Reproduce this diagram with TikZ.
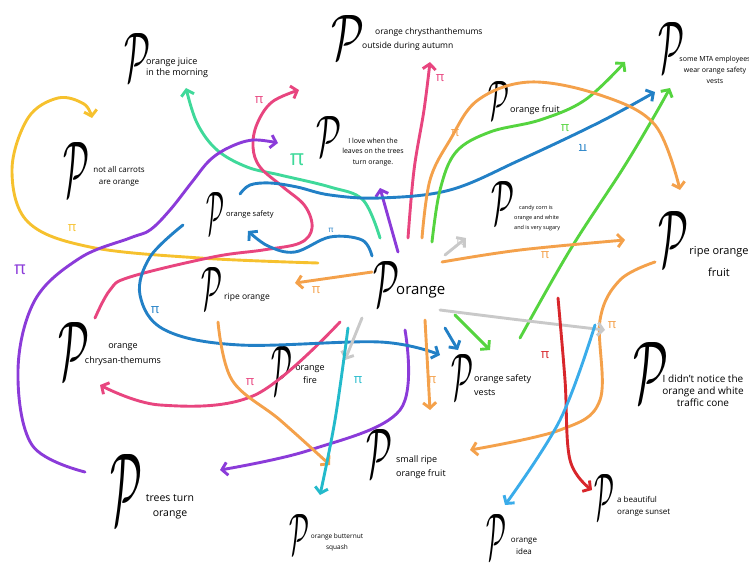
\documentclass[tikz,border=0pt]{standalone}
\usepackage{fontspec}
\setmainfont{Open Sans}
\usetikzlibrary{arrows.meta}
\definecolor{cyellow}{HTML}{F6C12E}
\definecolor{cmint}{HTML}{3FD99A}
\definecolor{cpink}{HTML}{E8457F}
\definecolor{cpurple}{HTML}{8B3BD9}
\definecolor{cblue}{HTML}{2280C6}
\definecolor{cgreen}{HTML}{55D43F}
\definecolor{corange}{HTML}{F4A14B}
\definecolor{cgrey}{HTML}{C9C9C9}
\definecolor{cred}{HTML}{D8262B}
\definecolor{clblue}{HTML}{3AACEA}
\definecolor{cteal}{HTML}{23BACB}
\newcommand{\bigP}[2]{\resizebox{#1}{#2}{$\mathcal{P}$}}
\tikzset{
  pglyph/.style={inner sep=0pt, anchor=south west},
  lab/.style={inner sep=0pt, align=left, text=black},
  conn/.style={line width=2.9pt, line cap=round, line join=round,
    -{Straight Barb[length=5.5pt,width=13pt]}},
  pimark/.style={inner sep=0pt, font=\fontsize{13}{13}\selectfont},
}
\begin{document}
\begin{tikzpicture}[x=1pt,y=-1pt]
\useasboundingbox (0,0) rectangle (749,567);
% ---------------- nodes ----------------
\node[pglyph] (pjuice) at (124,82) {\bigP{26pt}{48pt}};
\node[lab, anchor=west, font=\fontsize{9}{11}\selectfont] (tjuice) at (146,68) {orange juice\\in the morning};
\node[pglyph] (pautumn) at (331,60) {\bigP{33pt}{44pt}};
\node[lab, anchor=west, font=\fontsize{8.5}{14}\selectfont] (tautumn) at (362,39) {\hspace*{13pt}orange chrysthanthemums\\outside during autumn};
\node[pglyph] (pfruit) at (488,120) {\bigP{21pt}{38pt}};
\node[lab, anchor=west, font=\fontsize{9}{11}\selectfont] (tfruit) at (510,110) {orange fruit};
\node[pglyph] (pmta) at (658,73) {\bigP{26pt}{50pt}};
\node[lab, align=center, font=\fontsize{7}{11}\selectfont] (tmta) at (715,70) {some MTA employees\\wear orange safety\\vests};
\node[pglyph] (pleaves) at (316,157) {\bigP{25pt}{40pt}};
\node[lab, align=center, font=\fontsize{7}{10.5}\selectfont] (tleaves) at (373,152) {I love when the\\leaves on the trees\\turn orange.};
\node[pglyph] (pcandy) at (491,225) {\bigP{23pt}{43pt}};
\node[lab, align=left, anchor=west, font=\fontsize{5.5}{10}\selectfont] (tcandy) at (514,218) {\hspace*{5pt}candy corn is\\orange and white\\and is very sugary};
\node[pglyph] (pcarrot) at (63,197) {\bigP{26pt}{54pt}};
\node[lab, align=center, font=\fontsize{8}{12}\selectfont] (tcarrot) at (119,176) {not all carrots\\are orange};
\node[pglyph] (psafety) at (206,235) {\bigP{18pt}{42pt}};
\node[lab, anchor=west, font=\fontsize{7.5}{10}\selectfont] (tsafety) at (226,215) {orange safety};
\node[pglyph] (pripefruit) at (658,267) {\bigP{30pt}{55pt}};
\node[lab, align=center, font=\fontsize{11}{22}\selectfont] (tripefruit) at (719,262) {ripe orange\\fruit};
\node[pglyph] (pcenter) at (373,307) {\bigP{26pt}{45pt}};
\node[lab, anchor=west, font=\fontsize{15}{18}\selectfont] (tcenter) at (396,292) {orange};
\node[pglyph] (pripe) at (201,310) {\bigP{21pt}{42pt}};
\node[lab, anchor=west, font=\fontsize{8.5}{10}\selectfont] (tripe) at (224,297) {ripe orange};
\node[pglyph] (pchrys) at (58,380) {\bigP{31pt}{57pt}};
\node[lab, align=center, font=\fontsize{9}{15}\selectfont] (tchrys) at (123,355) {orange\\chrysan-themums};
\node[pglyph] (pfire) at (271,395) {\bigP{21pt}{48pt}};
\node[lab, align=center, font=\fontsize{9}{13}\selectfont] (tfire) at (310,375) {orange\\fire};
\node[pglyph] (pvests) at (451,400) {\bigP{22pt}{45pt}};
\node[lab, align=left, anchor=west, font=\fontsize{9}{14}\selectfont] (tvests) at (474,385) {orange safety\\vests};
\node[pglyph] (pcone) at (633,403) {\bigP{35pt}{60pt}};
\node[lab, align=center, font=\fontsize{10}{12}\selectfont] (tcone) at (703,391) {I didn't notice the\\orange and white\\traffic cone};
\node[pglyph] (psmall) at (366,478) {\bigP{26pt}{48pt}};
\node[lab, anchor=west, font=\fontsize{9}{14}\selectfont] (tsmall) at (396,467) {small ripe\\orange fruit};
\node[pglyph] (ptrees) at (110,525) {\bigP{32pt}{70pt}};
\node[lab, align=center, font=\fontsize{10.5}{15}\selectfont] (ttrees) at (170,507) {trees turn\\orange};
\node[pglyph] (psquash) at (289,555) {\bigP{20pt}{40pt}};
\node[lab, align=center, font=\fontsize{6.5}{11}\selectfont] (tsquash) at (337,542) {orange butternut\\squash};
\node[pglyph] (pidea) at (486,560) {\bigP{20pt}{45pt}};
\node[lab, align=center, font=\fontsize{8}{12}\selectfont] (tidea) at (524,546) {orange\\idea};
\node[pglyph] (psunset) at (594,520) {\bigP{20pt}{45pt}};
\node[lab, anchor=west, font=\fontsize{8}{12}\selectfont] (tsunset) at (617,506) {a beautiful\\orange sunset};
% ---------------- connector ends ----------------
\coordinate (yS) at (318,263);  \coordinate (yE) at (92,118);
\coordinate (mS) at (380,238);  \coordinate (mE) at (186,88);
\coordinate (pkS) at (408,238); \coordinate (pkE) at (430,62);
\coordinate (pk2S) at (95,318); \coordinate (pk2E) at (299,90);
\coordinate (pk3S) at (340,322); \coordinate (pk3E) at (100,385);
\coordinate (puS) at (85,472);  \coordinate (puE) at (278,143);
\coordinate (pu2S) at (405,330); \coordinate (pu2E) at (220,470);
\coordinate (pu3S) at (398,252); \coordinate (pu3E) at (380,188);
\coordinate (blS) at (240,194); \coordinate (blE) at (655,92);
\coordinate (bl2S) at (183,225); \coordinate (bl2E) at (440,355);
\coordinate (bl3S) at (372,256); \coordinate (bl3E) at (248,231);
\coordinate (bl4S) at (445,328); \coordinate (bl4E) at (458,350);
\coordinate (gS) at (432,242);  \coordinate (gE) at (625,62);
\coordinate (g2S) at (520,338); \coordinate (g2E) at (670,88);
\coordinate (g3S) at (455,315); \coordinate (g3E) at (490,350);
\coordinate (oS) at (422,238);  \coordinate (oE) at (680,190);
\coordinate (o2S) at (442,262); \coordinate (o2E) at (625,240);
\coordinate (o3S) at (655,262); \coordinate (o3E) at (470,450);
\coordinate (o4S) at (425,320); \coordinate (o4E) at (430,410);
\coordinate (o5S) at (218,322); \coordinate (o5E) at (330,465);
\coordinate (o6S) at (372,272); \coordinate (o6E) at (295,283);
\coordinate (grS) at (445,255); \coordinate (grE) at (466,238);
\coordinate (gr2S) at (440,310); \coordinate (gr2E) at (605,330);
\coordinate (gr3S) at (362,318); \coordinate (gr3E) at (345,360);
\coordinate (rS) at (558,298);  \coordinate (rE) at (592,490);
\coordinate (lbS) at (595,325); \coordinate (lbE) at (505,505);
\coordinate (tS) at (348,328);  \coordinate (tE) at (320,495);
% ---------------- connectors ----------------
\draw[conn, cyellow] plot[smooth, tension=0.6] coordinates {(yS) (200,258) (90,247) (28,222) (12,170) (28,118) (58,98) (84,104) (yE)};
\draw[conn, cmint] plot[smooth, tension=0.6] coordinates {(mS) (363,200) (330,187) (280,175) (247,167) (217,150) (197,123) (mE)};
\draw[conn, cpink] plot[smooth, tension=0.6] coordinates {(pkS) (414,170) (424,110) (pkE)};
\draw[conn, cpink] plot[smooth, tension=0.6] coordinates {(pk2S) (110,290) (130,277) (213,257) (263,250) (300,243) (312,228) (305,206) (283,187) (260,167) (253,147) (257,124) (272,102) (pk2E)};
\draw[conn, cpink] plot[smooth, tension=0.6] coordinates {(pk3S) (255,395) (160,405) (pk3E)};
\draw[conn, cpurple] plot[smooth, tension=0.6] coordinates {(puS) (32,445) (18,370) (35,300) (80,258) (130,238) (150,230) (170,210) (192,182) (210,160) (230,147) (253,140) (puE)};
\draw[conn, cpurple] plot[smooth, tension=0.6] coordinates {(pu2S) (400,410) (310,450) (pu2E)};
\draw[conn, cpurple] (pu3S) -- (pu3E);
\draw[conn, cblue] plot[smooth, tension=0.6] coordinates {(blS) (250,185) (270,183) (297,187) (330,195) (380,198) (450,190) (520,160) (600,122) (blE)};
\draw[conn, cblue] plot[smooth, tension=0.6] coordinates {(bl2S) (150,257) (140,295) (165,330) (240,345) (380,342) (bl2E)};
\draw[conn, cblue] plot[smooth, tension=0.6] coordinates {(bl3S) (362,240) (330,237) (295,252) (268,246) (bl3E)};
\draw[conn, cblue] (bl4S) -- (bl4E);
\draw[conn, cgreen] plot[smooth, tension=0.6] coordinates {(gS) (440,190) (456,152) (490,132) (540,120) (585,100) (gE)};
\draw[conn, cgreen] plot[smooth, tension=0.6] coordinates {(g2S) (570,250) (622,170) (652,120) (g2E)};
\draw[conn, cgreen] (g3S) -- (g3E);
\draw[conn, corange] plot[smooth, tension=0.6] coordinates {(oS) (430,180) (450,140) (478,100) (530,82) (600,95) (655,125) (oE)};
\draw[conn, corange] plot[smooth, tension=0.6] coordinates {(o2S) (520,250) (o2E)};
\draw[conn, corange] plot[smooth, tension=0.6] coordinates {(o3S) (620,280) (600,320) (600,400) (560,430) (o3E)};
\draw[conn, corange] (o4S) -- (o4E);
\draw[conn, corange] plot[smooth, tension=0.6] coordinates {(o5S) (232,380) (280,420) (o5E)};
\draw[conn, corange] (o6S) -- (o6E);
\draw[conn, cgrey] (grS) -- (grE);
\draw[conn, cgrey] plot[smooth, tension=0.6] coordinates {(gr2S) (520,320) (gr2E)};
\draw[conn, cgrey] (gr3S) -- (gr3E);
\draw[conn, cred] plot[smooth, tension=0.6] coordinates {(rS) (565,380) (570,460) (rE)};
\draw[conn, clblue] plot[smooth, tension=0.6] coordinates {(lbS) (560,420) (lbE)};
\draw[conn, cteal] plot[smooth, tension=0.6] coordinates {(tS) (335,420) (tE)};
% ---------------- pi marks ----------------
\node[pimark, text=cyellow] (pi1) at (72,228) {π};
\node[pimark, text=cmint, font=\fontsize{22}{22}\selectfont] (pi2) at (297,160) {π};
\node[pimark, text=cpink] (pi3) at (440,78) {π};
\node[pimark, text=cpink] (pi4) at (259,100) {π};
\node[pimark, text=cpink] (pi5) at (250,382) {π};
\node[pimark, text=cpurple, font=\fontsize{18}{18}\selectfont] (pi6) at (20,270) {π};
\node[pimark, text=cblue, rotate=180] (pi7) at (583,148) {π};
\node[pimark, text=cblue] (pi8) at (155,310) {π};
\node[pimark, text=cblue, font=\fontsize{8}{8}\selectfont] (pi8b) at (331,230) {π};
\node[pimark, text=cgreen] (pi9) at (565,128) {π};
\node[pimark, text=corange] (pi10) at (455,133) {π};
\node[pimark, text=corange] (pi11) at (545,255) {π};
\node[pimark, text=corange] (pi12) at (612,325) {π};
\node[pimark, text=corange] (pi13) at (432,380) {π};
\node[pimark, text=corange] (pi14) at (316,290) {π};
\node[pimark, text=cred] (pi15) at (545,355) {π};
\node[pimark, text=cteal] (pi16) at (358,380) {π};
\node[pimark, text=cgrey] (pi17) at (460,242) {π};
\end{tikzpicture}
\end{document}
